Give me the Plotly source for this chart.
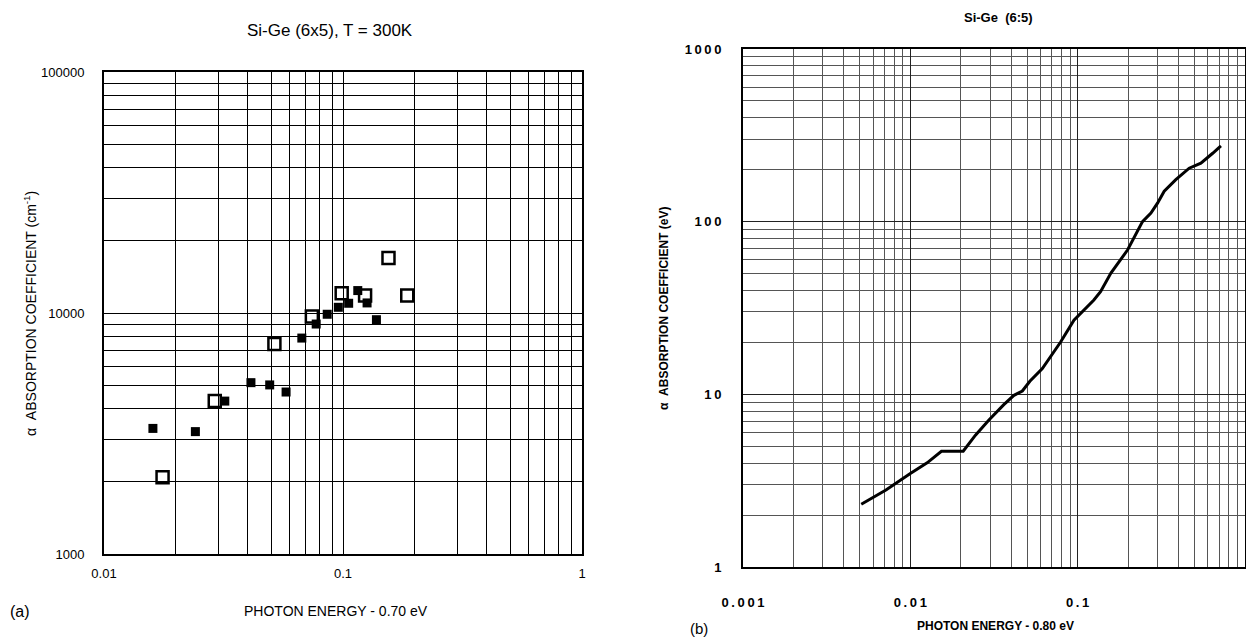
import plotly.graph_objects as go

# ---------------- Panel (a): Si-Ge (6x5), T = 300K ----------------
a_filled_x = [0.01602, 0.02412, 0.03202, 0.04119, 0.04935, 0.05779, 0.06725, 0.07724,
              0.0859, 0.0956, 0.1056, 0.1153, 0.1261, 0.1380]
a_filled_y = [3320, 3220, 4310, 5140, 5030, 4700, 7870, 9000,
              9880, 10560, 10975, 12390, 11010, 9380]
a_open_x = [0.01758, 0.02907, 0.05164, 0.07408, 0.09875, 0.1237, 0.1550, 0.1857]
a_open_y = [2080, 4310, 7430, 9660, 12080, 11810, 16900, 11810]

a_xticks = [0.01, 0.1, 1]
a_xticktext = ["0.01", "0.1", "1"]
a_yticks = [1000, 10000, 100000]
a_yticktext = ["1000", "10000", "100000"]

# ---------------- Panel (b): Si-Ge (6:5) ----------------
b_x = [0.00509, 0.00715, 0.0100, 0.0126, 0.01534, 0.0207, 0.0245, 0.0294,
       0.0362, 0.0416, 0.0467, 0.0518, 0.0615, 0.0706, 0.0791, 0.0950,
       0.114, 0.125, 0.137, 0.158, 0.199, 0.222, 0.244, 0.274, 0.300, 0.329,
       0.386, 0.464, 0.545, 0.641, 0.718]
b_y = [2.31, 2.79, 3.48, 4.01, 4.68, 4.68, 5.8, 7.08,
       8.72, 9.87, 10.45, 11.9, 14.1, 17.2, 20.1, 26.9,
       32.2, 35.2, 39.3, 50.4, 68.7, 84.0, 100.0, 112.0, 128.0, 150.0,
       175.0, 204.0, 218.0, 249.0, 275.0]

TS = "\u2009"  # thin space, mimics the letter-spaced bold digits
b_xticks = [0.001, 0.01, 0.1, 1]
b_xticktext = [TS.join("0.001"), TS.join("0.01"), TS.join("0.1"), "1"]
b_yticks = [1, 10, 100, 1000]
b_yticktext = ["1", TS.join("10"), TS.join("100"), TS.join("1000")]

W, H = 1246, 637


def px_x(p):
    return p / W


def px_y(p):
    return 1 - p / H


fig = go.Figure()

fig.add_trace(go.Scatter(
    x=a_filled_x, y=a_filled_y, mode="markers", xaxis="x", yaxis="y",
    marker=dict(symbol="square", size=9, color="black", line=dict(width=0)),
    showlegend=False))
fig.add_trace(go.Scatter(
    x=a_open_x, y=a_open_y, mode="markers", xaxis="x", yaxis="y",
    marker=dict(symbol="square-open", size=12, color="black",
                line=dict(width=2.5, color="black")),
    showlegend=False))
fig.add_trace(go.Scatter(
    x=b_x, y=b_y, mode="lines", xaxis="x2", yaxis="y2",
    line=dict(color="black", width=3),
    showlegend=False))

font_a = dict(family="Liberation Sans, Arial, sans-serif", color="black")
font_b = dict(family="Liberation Sans, Arial, sans-serif", color="black", weight="bold")

common_ax = dict(type="log", showline=True, mirror=True, linecolor="black",
                 linewidth=2, ticks="", zeroline=False, showgrid=True,
                 automargin=False)

fig.update_layout(
    width=W, height=H,
    margin=dict(l=0, r=0, t=0, b=0, pad=0),
    paper_bgcolor="white", plot_bgcolor="white",
    xaxis=dict(**common_ax, domain=[px_x(104), px_x(582)], anchor="y",
               range=[-2, 0], tickvals=a_xticks, ticktext=a_xticktext,
               gridcolor="black", gridwidth=1.3,
               minor=dict(dtick="D1", showgrid=True, gridcolor="black", gridwidth=1.3),
               tickfont=dict(size=13, **font_a), ticklabelstandoff=6),
    yaxis=dict(**common_ax, domain=[px_y(554), px_y(72)], anchor="x",
               range=[3, 5], tickvals=a_yticks, ticktext=a_yticktext,
               gridcolor="black", gridwidth=1.3,
               minor=dict(dtick="D1", showgrid=True, gridcolor="black", gridwidth=1.3),
               tickfont=dict(size=13, **font_a), ticklabelstandoff=15),
    xaxis2=dict(**common_ax, domain=[px_x(743), px_x(1245)], anchor="y2",
                range=[-3, 0], tickvals=b_xticks, ticktext=b_xticktext,
                gridcolor="#222", gridwidth=1.2,
                minor=dict(dtick="D1", showgrid=True, gridcolor="#555", gridwidth=1),
                tickfont=dict(size=13, **font_b), ticklabelstandoff=22),
    yaxis2=dict(**common_ax, domain=[px_y(567), px_y(49)], anchor="x2",
                range=[0, 3], tickvals=b_yticks, ticktext=b_yticktext,
                gridcolor="#222", gridwidth=1.2,
                minor=dict(dtick="D1", showgrid=True, gridcolor="#555", gridwidth=1),
                tickfont=dict(size=13, **font_b), ticklabelstandoff=17),
)

ann = []
ann.append(dict(text="Si-Ge (6x5), T = 300K", x=px_x(330), y=px_y(31),
                xref="paper", yref="paper", showarrow=False,
                font=dict(size=17, **font_a), xanchor="center", yanchor="middle"))
ann.append(dict(text="PHOTON ENERGY - 0.70 eV", x=px_x(336), y=px_y(611),
                xref="paper", yref="paper", showarrow=False,
                font=dict(size=14, **font_a), xanchor="center", yanchor="middle"))
ann.append(dict(text="(a)", x=px_x(20), y=px_y(611),
                xref="paper", yref="paper", showarrow=False,
                font=dict(size=16, **font_a), xanchor="center", yanchor="middle"))
ann.append(dict(text="\u03b1  ABSORPTION COEFFICIENT (cm<sup>-1</sup>)", x=px_x(30), y=px_y(314),
                xref="paper", yref="paper", showarrow=False, textangle=-90,
                font=dict(size=14, **font_a), xanchor="center", yanchor="middle"))

ann.append(dict(text="Si-Ge  (6:5)", x=px_x(998), y=px_y(18),
                xref="paper", yref="paper", showarrow=False,
                font=dict(size=13, **font_b), xanchor="center", yanchor="middle"))
ann.append(dict(text="PHOTON ENERGY - 0.80 eV", x=px_x(995), y=px_y(626),
                xref="paper", yref="paper", showarrow=False,
                font=dict(size=12, **font_b), xanchor="center", yanchor="middle"))
ann.append(dict(text="(b)", x=px_x(699), y=px_y(628),
                xref="paper", yref="paper", showarrow=False,
                font=dict(size=15, **font_a), xanchor="center", yanchor="middle"))
ann.append(dict(text="\u03b1  ABSORPTION COEFFICIENT (eV)", x=px_x(664), y=px_y(309),
                xref="paper", yref="paper", showarrow=False, textangle=-90,
                font=dict(size=12, **font_b), xanchor="center", yanchor="middle"))

fig.update_layout(annotations=ann)

fig.write_html("out.html",
               config={"displayModeBar": False},
               post_script="document.body.style.margin='0px';"
                           "document.body.style.padding='0px';"
                           "document.body.style.overflow='hidden';")
